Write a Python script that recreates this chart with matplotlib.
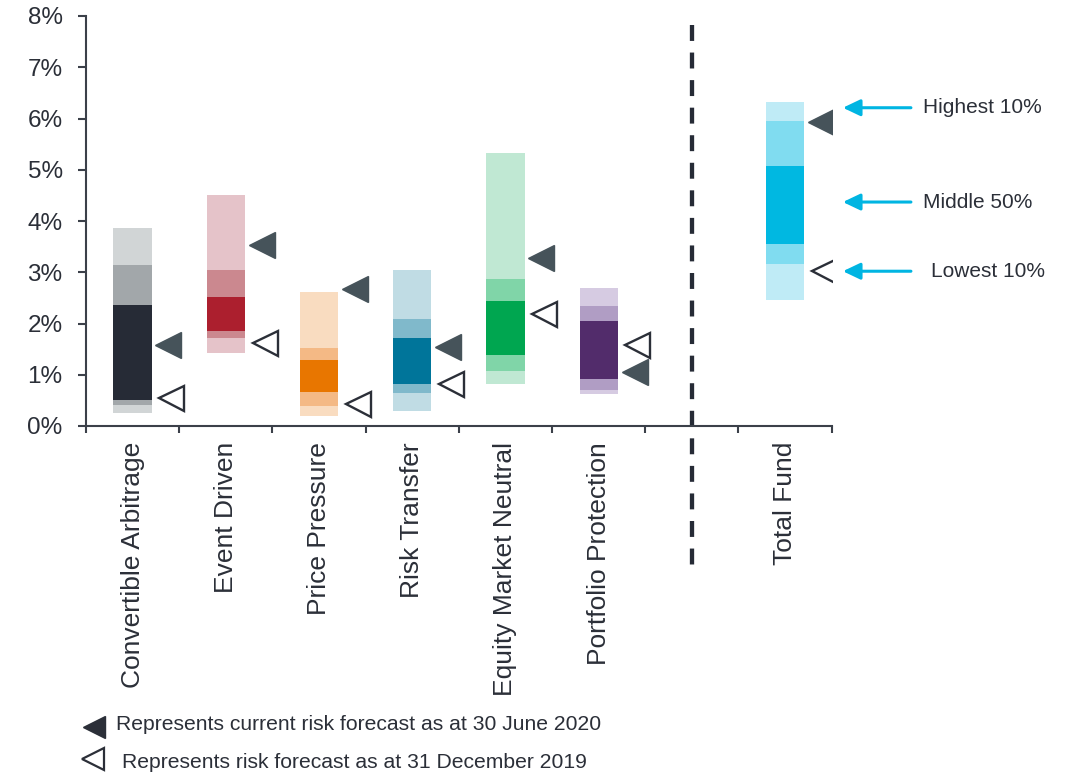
import matplotlib
matplotlib.use("Agg")
import matplotlib.pyplot as plt
from matplotlib.lines import Line2D

plt.rcParams['font.family'] = ['Liberation Sans', 'DejaVu Sans']

strategies = ["Convertible Arbitrage", "Event Driven", "Price Pressure", "Risk Transfer",
              "Equity Market Neutral", "Portfolio Protection", "Total Fund"]
slots = [0, 1, 2, 3, 4, 5, 7]

# forecast risk distribution, % (lowest, 10th, 25th, 75th, 90th, highest)
low = [0.26, 1.43, 0.20, 0.30, 0.81, 0.63, 2.46]
p10 = [0.41, 1.72, 0.39, 0.64, 1.08, 0.70, 3.16]
p25 = [0.51, 1.85, 0.66, 0.82, 1.39, 0.92, 3.55]
p75 = [2.36, 2.52, 1.29, 1.72, 2.44, 2.05, 5.07]
p90 = [3.14, 3.04, 1.52, 2.09, 2.87, 2.35, 5.95]
high = [3.86, 4.51, 2.61, 3.04, 5.33, 2.69, 6.32]

current = [1.59, 3.54, 2.68, 1.54, 3.27, 1.05, 5.94]   # 30 June 2020
previous = [0.54, 1.62, 0.42, 0.81, 2.19, 1.58, 3.02]  # 31 December 2019

# light / medium / dark shade per strategy
shades = [
    ("#d1d5d6", "#a2a7aa", "#262b36"),
    ("#e5c3c9", "#cb888f", "#ac1f2e"),
    ("#f9dcc0", "#f4b985", "#e87600"),
    ("#c0dce4", "#80b9cb", "#00759a"),
    ("#c0e8d3", "#80d5a8", "#00a650"),
    ("#d6cbe2", "#b09dc4", "#522c6b"),
    ("#bfebf6", "#80dcf0", "#00b8e1"),
]

band_labels = ["Highest 10%", "Middle 50%", "Lowest 10%"]
band_label_y = [6.21, 4.37, 3.02]

ink = "#2b2f38"
axis_col = "#3b4049"

fig = plt.figure(figsize=(10.66, 7.75), dpi=100)
ax = fig.add_axes([86 / 1066, 349 / 775, 745.7 / 1066, 410 / 775])

w = 0.41
for i, x in enumerate(slots):
    light, mid, dark = shades[i]
    edges = [low[i], p10[i], p25[i], p75[i], p90[i], high[i]]
    cols = [light, mid, dark, mid, light]
    for j in range(5):
        ax.bar(x, edges[j + 1] - edges[j], bottom=edges[j], width=w,
               color=cols[j], linewidth=0)
    ax.plot(x + 0.385, current[i], marker='<', ms=18.5, color="#46535a",
            linestyle='none', zorder=5)
    ax.plot(x + 0.415, previous[i], marker='<', ms=18, markerfacecolor='white',
            markeredgecolor=ink, markeredgewidth=1.7, linestyle='none', zorder=5)

# divider between strategies and total fund
ax.plot([6, 6], [7.82, -2.78], color="#262b36", lw=3.1, dashes=(3.7, 2.7),
        clip_on=False, solid_capstyle='butt', dash_capstyle='butt')

ax.set_xlim(-0.5, 7.5)
ax.set_ylim(0, 8)
ax.set_yticks(range(9))
ax.set_yticklabels([f"{v}%" for v in range(9)], fontsize=17.5, color=ink)
ax.set_xticks([b - 0.5 for b in range(9)])
ax.set_xticklabels([])
ax.set_xticks(slots, minor=True)
ax.set_xticklabels(strategies, minor=True, rotation=90, fontsize=19, color=ink,
                   va='top', ha='center')
ax.tick_params(axis='x', which='major', direction='out', length=5, width=1.5, color=axis_col)
ax.tick_params(axis='x', which='minor', length=0, pad=11.5)
ax.tick_params(axis='y', direction='out', length=5.8, width=1.5, color=axis_col, pad=11)
for s in ['top', 'right']:
    ax.spines[s].set_visible(False)
for s in ['left', 'bottom']:
    ax.spines[s].set_color(axis_col)
    ax.spines[s].set_linewidth(1.5)

# band key on the total fund column
for lab, y in zip(band_labels, band_label_y):
    ax.annotate("", xy=(7.62, y), xytext=(8.35, y), annotation_clip=False,
                arrowprops=dict(arrowstyle='-|>,head_length=1.05,head_width=0.5',
                                color="#00b5e2", lw=2.2, shrinkA=0, shrinkB=0,
                                mutation_scale=10))
    tx = 8.57 if lab.startswith("Lowest") else 8.48
    ax.text(tx, y, lab, fontsize=15, color=ink, va='center', ha='left', clip_on=False)

# marker key
fig.add_artist(Line2D([94 / 1066], [1 - 727 / 775], marker='<', ms=16, color=ink,
                      linestyle='none', transform=fig.transFigure))
fig.add_artist(Line2D([93 / 1066], [1 - 759 / 775], marker='<', ms=16,
                      markerfacecolor='white', markeredgecolor=ink, markeredgewidth=1.6,
                      linestyle='none', transform=fig.transFigure))
fig.text(116 / 1066, 1 - 724 / 775, "Represents current risk forecast as at 30 June 2020",
         fontsize=15.2, color=ink, va='center', ha='left')
fig.text(121.5 / 1066, 1 - 762 / 775, "Represents risk forecast as at 31 December 2019",
         fontsize=15.2, color=ink, va='center', ha='left')

fig.savefig("out.png", dpi=100)
